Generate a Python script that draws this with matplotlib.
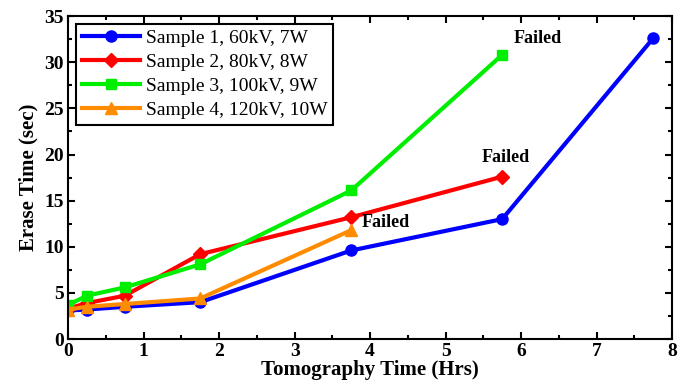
import matplotlib
matplotlib.use("Agg")
import matplotlib.pyplot as plt
from matplotlib.ticker import MultipleLocator

plt.rcParams['font.family'] = ['Liberation Serif', 'DejaVu Serif']

x1 = [0.0, 0.25, 0.75, 1.75, 3.75, 5.75, 7.75]
y1 = [3.1, 3.2, 3.5, 4.0, 9.6, 13.0, 32.6]
x2 = [0.0, 0.25, 0.75, 1.75, 3.75, 5.75]
y2 = [3.3, 3.9, 4.7, 9.2, 13.2, 17.6]
x3 = [0.0, 0.25, 0.75, 1.75, 3.75, 5.75]
y3 = [3.7, 4.7, 5.6, 8.1, 16.1, 30.8]
x4 = [0.0, 0.25, 0.75, 1.75, 3.75]
y4 = [3.2, 3.5, 3.8, 4.4, 11.8]
labels = ["Sample 1, 60kV, 7W", "Sample 2, 80kV, 8W",
          "Sample 3, 100kV, 9W", "Sample 4, 120kV, 10W"]

fig = plt.figure(figsize=(6.95, 3.92), dpi=100)
ax = fig.add_axes([0.098, 0.135, 0.869, 0.824])

ax.plot(x1, y1, color='#0000ff', marker='o', lw=3, ms=8, label=labels[0])
ax.plot(x2, y2, color='#ff0000', marker='D', lw=3, ms=7, label=labels[1])
ax.plot(x3, y3, color='#00ee00', marker='s', lw=3, ms=7, label=labels[2])
ax.plot(x4, y4, color='#ff8c00', marker='^', lw=3, ms=9, label=labels[3])

ax.text(x3[-1] + 0.15, y3[-1] + 0.9, "Failed", fontsize=13, fontweight='bold', va='bottom')
ax.text(x2[-1] - 0.27, y2[-1] + 1.2, "Failed", fontsize=13, fontweight='bold', va='bottom')
ax.text(x4[-1] + 0.14, y4[-1] - 0.1, "Failed", fontsize=13, fontweight='bold', va='bottom')

ax.set_xlim(0, 8)
ax.set_ylim(0, 35)
ax.xaxis.set_major_locator(MultipleLocator(1))
ax.xaxis.set_minor_locator(MultipleLocator(0.5))
ax.yaxis.set_major_locator(MultipleLocator(5))
ax.yaxis.set_minor_locator(MultipleLocator(2.5))
ax.tick_params(which='both', direction='in', top=True, right=True, width=1.5)
ax.tick_params(which='major', length=5, labelsize=14, pad=3)
ax.tick_params(which='minor', length=3)
for lab in ax.get_xticklabels() + ax.get_yticklabels():
    lab.set_fontweight('bold')
for s in ax.spines.values():
    s.set_linewidth(1.5)

ax.set_xlabel("Tomography Time (Hrs)", fontsize=15, fontweight='bold', labelpad=0)
ax.set_ylabel("Erase Time (sec)", fontsize=15, fontweight='bold', labelpad=4)

leg = ax.legend(loc='upper left', fontsize=14, fancybox=False, edgecolor='black',
                framealpha=1, handlelength=3.0, borderpad=0.3, labelspacing=0.32,
                handletextpad=0.3, borderaxespad=0.4)
leg.get_frame().set_linewidth(1.5)

fig.savefig("out.png", dpi=100)
